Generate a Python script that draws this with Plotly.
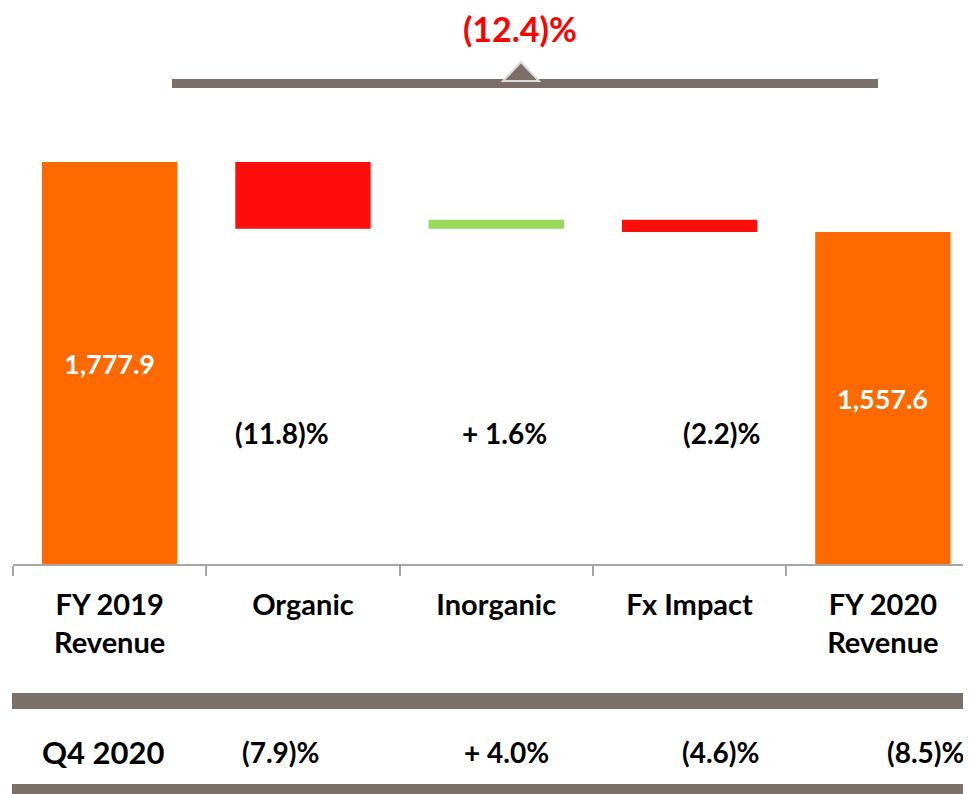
import plotly.graph_objects as go

# browser adds an 8px body margin; figure is sized to fill the rest of the window
OFF = 8
W, H = 971 - OFF, 794 - OFF

# ---- data ----
categories = ["FY 2019<br>Revenue", "Organic", "Inorganic", "Fx Impact", "FY 2020<br>Revenue"]
measures = ["absolute", "relative", "relative", "relative", "total"]
values = [1777.9, -209.8, 28.4, -38.9, 0]
bar_labels = ["1,777.9", "", "", "", "1,557.6"]
fy_change_labels = ["", "(11.8)%", "+ 1.6%", "(2.2)%", ""]
q4_row_title = "Q4 2020"
q4_labels = ["", "(7.9)%", "+ 4.0%", "(4.6)%", "(8.5)%"]
total_change_label = "(12.4)%"

# ---- style / layout ----
fy_change_shift = [0, -21, 8, 32, 0]
q4_shift = [0, -22, 10, 31, 43]
ORANGE = "#FF6A00"
RED = "#FF0C0C"
GREEN = "#99D95A"
BAND = "#7B6F6A"
AXIS = "#A6A6A6"
FONT = "Lato, Carlito, Calibri, sans-serif"

Y_MIN, Y_MAX = 513, 1973


def px(x):
    return (x - OFF) / W


def py(y):
    return 1 - (y - OFF) / H


fig = go.Figure()
fig.add_trace(go.Waterfall(
    x=categories,
    measure=measures,
    y=values,
    increasing=dict(marker=dict(color=GREEN)),
    decreasing=dict(marker=dict(color=RED)),
    totals=dict(marker=dict(color=ORANGE)),
    connector=dict(visible=False),
    textposition="none",
    hoverinfo="skip",
))

# running totals for label placement
running = []
acc = 0
for m, v in zip(measures, values):
    if m == "absolute":
        acc = v
    elif m == "relative":
        acc += v
    running.append(acc)

annotations = []
for i, lab in enumerate(bar_labels):
    if lab:
        annotations.append(dict(
            x=categories[i], y=(Y_MIN + running[i]) / 2, xref="x", yref="y", text=lab,
            xanchor="center", yanchor="middle",
            showarrow=False, font=dict(family=FONT, size=27, color="white", weight="bold")))
for i, lab in enumerate(fy_change_labels):
    if lab:
        annotations.append(dict(
            x=categories[i], y=py(433), xref="x", yref="paper", text=lab, xshift=fy_change_shift[i],
            xanchor="center", yanchor="middle",
            showarrow=False, font=dict(family=FONT, size=28, color="black", weight="bold")))
annotations.append(dict(
    x=categories[0], y=py(752), xref="x", yref="paper", text=q4_row_title, xshift=-6,
    xanchor="center", yanchor="middle",
    showarrow=False, font=dict(family=FONT, size=31, color="black", weight="bold")))
for i, lab in enumerate(q4_labels):
    if lab:
        annotations.append(dict(
            x=categories[i], y=py(752), xref="x", yref="paper", text=lab, xshift=q4_shift[i],
            xanchor="center", yanchor="middle",
            showarrow=False, font=dict(family=FONT, size=28, color="black", weight="bold")))
annotations.append(dict(
    x=px(520), y=py(28), xref="paper", yref="paper", text=total_change_label,
    xanchor="center", yanchor="middle",
    showarrow=False, font=dict(family=FONT, size=34, color="#FF0000", weight="bold")))

shapes = [
    # top bracket bar
    dict(type="rect", xref="paper", yref="paper", x0=px(172), x1=px(878), y0=py(88), y1=py(79),
         fillcolor=BAND, line=dict(width=0), layer="above"),
    # triangle marker
    dict(type="path", xref="paper", yref="paper",
         path=f"M {px(503)},{py(81)} L {px(521)},{py(62)} L {px(539)},{py(81)} Z",
         fillcolor=BAND, line=dict(color="#DDDDDD", width=2), layer="above"),
    # bottom bands
    dict(type="rect", xref="paper", yref="paper", x0=px(12), x1=1, y0=py(709), y1=py(693),
         fillcolor=BAND, line=dict(width=0)),
    dict(type="rect", xref="paper", yref="paper", x0=px(12), x1=1, y0=0, y1=py(784),
         fillcolor=BAND, line=dict(width=0)),
]

fig.update_layout(
    width=W, height=H,
    margin=dict(l=0, r=0, t=0, b=0),
    paper_bgcolor="white", plot_bgcolor="white",
    showlegend=False,
    waterfallgap=0.3,
    annotations=annotations,
    shapes=shapes,
    xaxis=dict(
        type="category",
        domain=[px(13), 1],
        range=[-0.5, -0.5 + (971 - 13) / 193.3],
        tickson="boundaries",
        showline=True, linecolor=AXIS, linewidth=2,
        ticks="outside", ticklen=10, tickcolor=AXIS, tickwidth=1.5,
        ticklabelstandoff=14,
        showgrid=False, zeroline=False,
        tickfont=dict(family=FONT, size=29, color="black", weight="bold"),
        anchor="y",
    ),
    yaxis=dict(
        domain=[py(564), py(100)],
        range=[Y_MIN, Y_MAX],
        visible=False, showgrid=False, zeroline=False,
    ),
)

fig.write_html("out.html")
